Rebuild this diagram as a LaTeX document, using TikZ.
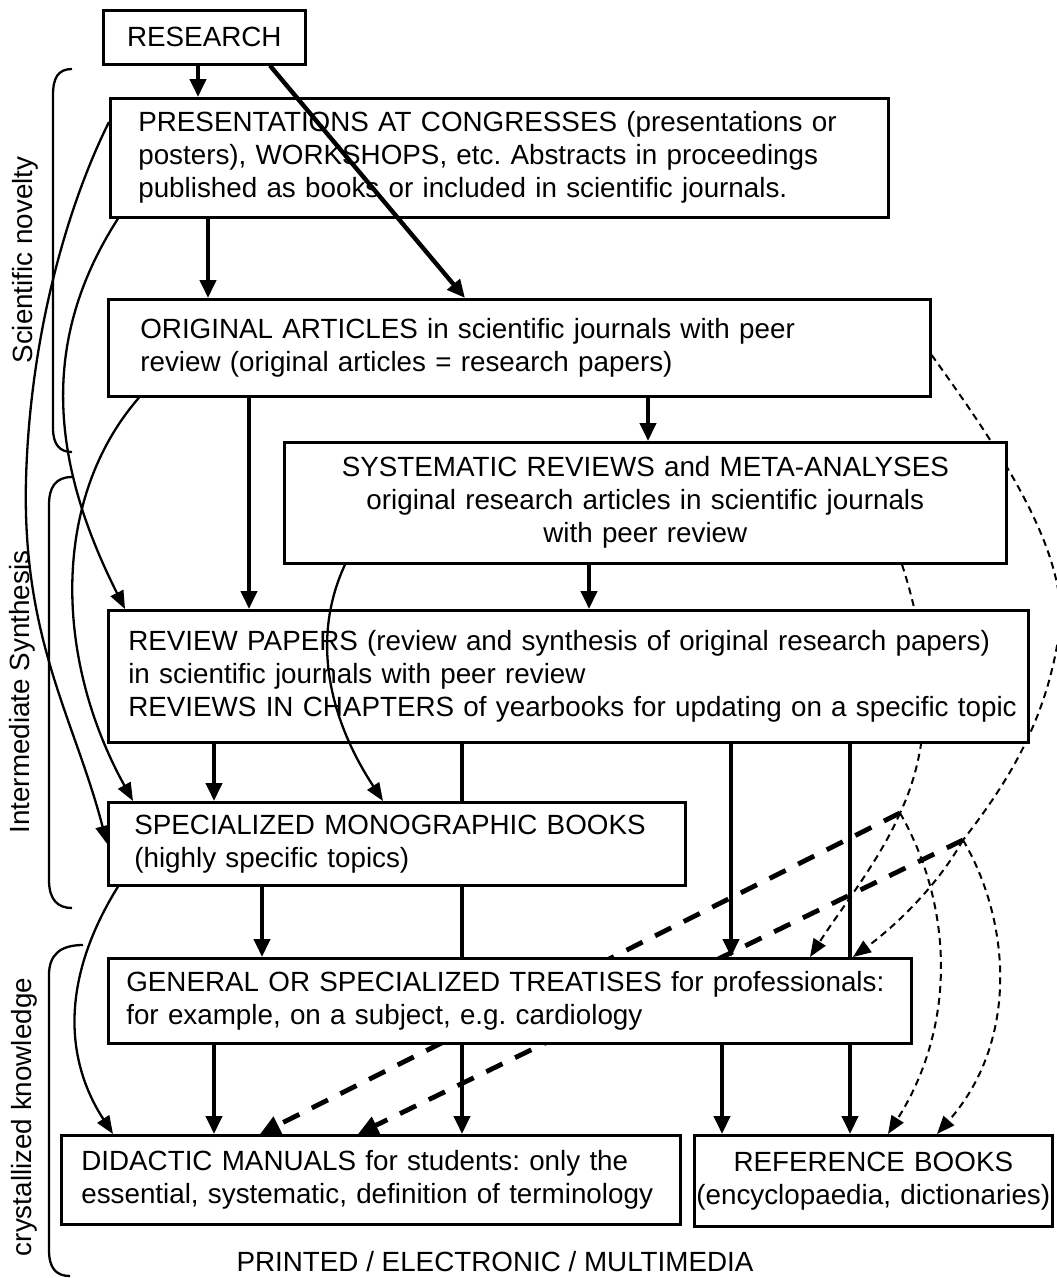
\documentclass[tikz,border=0pt]{standalone}
\usepackage{fontspec}
\setmainfont{Liberation Sans}
\frenchspacing
\usetikzlibrary{arrows.meta}

\pgfdeclarelayer{back}
\pgfsetlayers{back,main}

\tikzset{
    box/.style={draw, line width=2.6pt, fill=white, anchor=north west,
        align=left, inner ysep=0pt},
    flow/.style={line width=4.4pt, -{Triangle[length=18pt,width=16pt]}},
    curl/.style={line width=2.3pt, -{Triangle[length=18pt,width=14pt]}},
    hint/.style={line width=2pt, dash pattern=on 7pt off 5pt,
        -{Triangle[length=18pt,width=14pt]}},
    heavy/.style={line width=4.8pt, dash pattern=on 18pt off 14pt,
        -{Triangle[length=20pt,width=18pt]}},
    brace/.style={line width=2.3pt},
    side/.style={rotate=90},
}

\begin{document}
\begin{tikzpicture}[x=1pt, y=-1pt, font=\fontsize{27.8}{33}\selectfont]
    \useasboundingbox (0,0) rectangle (1057,1278);

    % Boxes, top to bottom
    \node[box, align=center, minimum width=202pt, minimum height=54pt] (research) at (102,9) {RESEARCH};
    \node[box, minimum width=778pt, minimum height=119pt, inner xsep=28pt, text width=722pt] (pres) at (109,97)
        {PRESENTATIONS AT CONGRESSES (presentations or\\ posters), WORKSHOPS, etc. Abstracts in proceedings\\ published as books or included in scientific journals.};
    \node[box, minimum width=822pt, minimum height=97pt, inner xsep=32pt, text width=758pt] (orig) at (107,298)
        {ORIGINAL ARTICLES in scientific journals with peer\\ review (original articles = research papers)};
    \node[box, align=center, minimum width=722pt, minimum height=121pt, inner xsep=11pt, text width=700pt] (syst) at (283,441)
        {SYSTEMATIC REVIEWS and META-ANALYSES\\ original research articles in scientific journals\\ with peer review};
    \node[box, minimum width=920pt, minimum height=132pt, inner xsep=20pt, text width=880pt] (review) at (107,609)
        {REVIEW PAPERS (review and synthesis of original research papers)\\ in scientific journals with peer review\\
         \mbox{REVIEWS IN CHAPTERS of yearbooks for updating on a specific topic}};
    \node[box, minimum width=577pt, minimum height=83pt, inner xsep=26pt, text width=525pt] (mono) at (107,801)
        {SPECIALIZED MONOGRAPHIC BOOKS\\ (highly specific topics)};
    \node[box, minimum width=803pt, minimum height=85pt, inner xsep=18pt, text width=767pt] (general) at (107,957)
        {GENERAL OR SPECIALIZED TREATISES for professionals:\\ for example, on a subject, e.g. cardiology};
    \node[box, minimum width=619pt, minimum height=89pt, inner xsep=20pt, text width=579pt] (didactic) at (60,1134)
        {DIDACTIC MANUALS for students: only the\\ essential, systematic, definition of terminology};
    \node[box, align=center, minimum width=358pt, minimum height=91pt, inner xsep=0pt, text width=358pt] (reference) at (693,1134)
        {REFERENCE BOOKS\\ (encyclopaedia, dictionaries)};

    \node (media) at (495,1262) {PRINTED / ELECTRONIC / MULTIMEDIA};

    % Braces and their labels
    \draw[brace] (72,69) .. controls (58,69) and (53,78) .. (53,95) -- (53,428)
        .. controls (53,445) and (60,452) .. (72,452);
    \draw[brace] (72,477) .. controls (55,477) and (49,488) .. (49,505) -- (49,880)
        .. controls (49,900) and (58,908) .. (72,908);
    \draw[brace] (83,945) .. controls (60,945) and (49,955) .. (49,975) -- (49,1250)
        .. controls (49,1268) and (56,1276) .. (70,1276);
    \node[side] (novelty) at (25,260) {Scientific novelty};
    \node[side] (synthesis) at (22,692) {Intermediate Synthesis};
    \node[side] (crystal) at (24,1117) {crystallized knowledge};

    % Lines running behind the boxes
    \coordinate (j1) at (900,813);
    \coordinate (j2) at (963,840);
    \begin{pgfonlayer}{back}
        \draw[flow] (review.south -| 462,0) -- (didactic.north -| 462,0);
        \draw[flow] (review.south -| 850,0) -- (reference.north -| 850,0);

        \draw[hint, -] (orig.east |- 0,355) .. controls (1000,450) and (1075,560) .. (1058,640)
            .. controls (1045,720) and (1010,780) .. (j2);
        \draw[hint, -] (syst.south -| 902,0) .. controls (930,650) and (935,740) .. (j1);
        \draw[hint] (j1) .. controls (880,860) and (840,910) .. (general.north -| 810,0);
        \draw[hint] (j1) .. controls (950,900) and (960,1020) .. (reference.north -| 888,0);
        \draw[hint] (j2) .. controls (935,890) and (890,930) .. (general.north -| 853,0);
        \draw[hint] (j2) .. controls (1010,920) and (1020,1040) .. (reference.north -| 937,0);

        \draw[heavy] (j1) -- (didactic.north -| 260,0);
        \draw[heavy] (j2) -- (didactic.north -| 358,0);
    \end{pgfonlayer}

    % Straight flow between levels
    \draw[flow] (research.south -| 198,0) -- (pres.north -| 198,0);
    \draw[flow] (research.south -| 270,0) -- (orig.north -| 465,0);
    \draw[flow] (pres.south -| 208,0) -- (orig.north -| 208,0);
    \draw[flow] (orig.south -| 648,0) -- (syst.north -| 648,0);
    \draw[flow] (orig.south -| 249,0) -- (review.north -| 249,0);
    \draw[flow] (syst.south -| 589,0) -- (review.north -| 589,0);
    \draw[flow] (review.south -| 214,0) -- (mono.north -| 214,0);
    \draw[flow] (review.south -| 731,0) -- (general.north -| 731,0);
    \draw[flow] (mono.south -| 262,0) -- (general.north -| 262,0);
    \draw[flow] (general.south -| 214,0) -- (didactic.north -| 214,0);
    \draw[flow] (general.south -| 722,0) -- (reference.north -| 722,0);

    % Curved links on the left
    \draw[curl] ([yshift=-25pt]pres.north west) .. controls (70,200) and (30,330) .. (26,480)
        .. controls (22,640) and (75,720) .. (mono.west);
    \draw[curl] (pres.south -| 118,0) .. controls (40,340) and (50,460) .. (review.north -| 125,0);
    \draw[curl] (orig.south -| 139,0) .. controls (50,500) and (55,660) .. (mono.north -| 133,0);
    \draw[curl] (mono.south -| 118,0) .. controls (60,980) and (65,1060) .. (didactic.north -| 113,0);
    \draw[curl] (syst.south -| 345,0) .. controls (310,640) and (330,720) .. (mono.north -| 383,0);
\end{tikzpicture}
\end{document}
